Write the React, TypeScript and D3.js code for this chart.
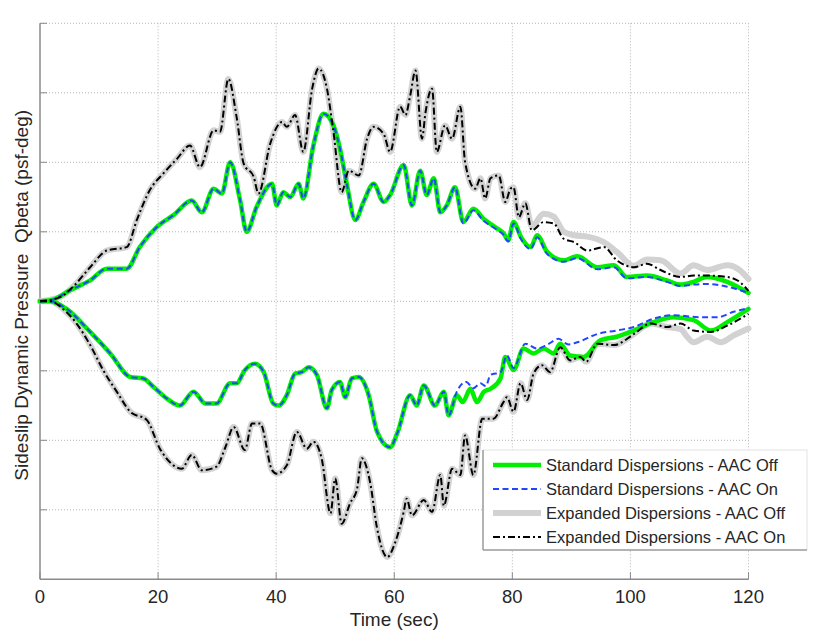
import React from "react";
import * as d3 from "d3";

// ---- Data (y in grid units; axis has unlabeled ticks) ----
const xTicks = [0, 20, 40, 60, 80, 100, 120];
const yTicks = [-3, -2, -1, 0, 1, 2, 3, 4];

const stdOffUpperT = [0, 2, 5.1, 8.5, 11.3, 14.7, 16.9, 19.8, 22.6, 25.7, 27.4, 29.4, 30.8, 32.2, 33.9, 35.0, 36.7, 39.3, 40.1, 41.2, 42.4, 43.8, 44.6, 46.3, 48.0, 49.7, 50.8, 52.0, 53.4, 54.8, 56.5, 58.2, 59.3, 61.6, 63.0, 64.4, 65.5, 66.7, 67.8, 68.9, 70.3, 71.7, 73.4, 75.1, 77.4, 78.5, 79.3, 80.2, 81.5, 83.1, 84.2, 85.9, 88.7, 91, 94.4, 97.2, 99.4, 102.8, 106.2, 108.5, 110.7, 113, 116.4, 120];
const stdOffUpperV = [0, 0.02, 0.16, 0.30, 0.47, 0.47, 0.78, 1.07, 1.24, 1.45, 1.28, 1.62, 1.55, 2.00, 1.45, 1.00, 1.36, 1.69, 1.38, 1.57, 1.50, 1.69, 1.48, 2.24, 2.70, 2.53, 2.20, 1.67, 1.17, 1.43, 1.69, 1.43, 1.53, 1.96, 1.38, 1.88, 1.53, 1.77, 1.28, 1.38, 1.64, 1.14, 1.33, 1.19, 1.05, 0.98, 0.88, 1.14, 0.92, 0.78, 0.95, 0.71, 0.59, 0.65, 0.49, 0.52, 0.35, 0.37, 0.30, 0.24, 0.28, 0.35, 0.28, 0.12];

const stdOnUpperT = [0, 2, 5.1, 8.5, 11.3, 14.7, 16.9, 19.8, 22.6, 25.7, 27.4, 29.4, 30.8, 32.2, 33.9, 35.0, 36.7, 39.3, 40.1, 41.2, 42.4, 43.8, 44.6, 46.3, 48.0, 49.7, 50.8, 52.0, 53.4, 54.8, 56.5, 58.2, 59.3, 61.6, 63.0, 64.4, 65.5, 66.7, 67.8, 68.9, 70.3, 71.7, 73.4, 75.1, 77.4, 78.5, 79.3, 80.2, 81.5, 83.1, 84.2, 85.9, 88.7, 91, 94.4, 97.2, 99.4, 102.8, 106.2, 108.5, 110.7, 113, 116.4, 120];
const stdOnUpperV = [0, 0.02, 0.16, 0.30, 0.47, 0.47, 0.78, 1.07, 1.24, 1.45, 1.28, 1.62, 1.55, 2.00, 1.45, 1.00, 1.36, 1.69, 1.38, 1.57, 1.50, 1.69, 1.48, 2.24, 2.70, 2.53, 2.20, 1.67, 1.17, 1.43, 1.69, 1.43, 1.53, 1.96, 1.38, 1.88, 1.53, 1.77, 1.28, 1.38, 1.64, 1.12, 1.31, 1.16, 1.03, 0.96, 0.86, 1.12, 0.89, 0.75, 0.92, 0.68, 0.57, 0.62, 0.46, 0.49, 0.33, 0.35, 0.28, 0.22, 0.24, 0.25, 0.21, 0.12];

const expOffUpperT = [0, 3.4, 5.6, 8.5, 11.3, 14.7, 16.4, 18.6, 20.9, 23.2, 25.4, 27.1, 29.4, 30.5, 31.9, 33.3, 34.5, 36.2, 37.0, 39.0, 41.0, 41.8, 43.2, 44.6, 46.1, 47.2, 48.6, 49.7, 51.1, 52.3, 54.0, 55.4, 56.5, 58.2, 59.3, 61.0, 61.9, 62.7, 63.6, 64.7, 65.3, 66.4, 67.2, 68.6, 69.8, 71.2, 72.0, 73.7, 74.6, 75.4, 76.3, 77.7, 78.8, 79.7, 80.2, 81.1, 82.2, 83.3, 85.3, 87, 88.7, 90.5, 92.7, 95.5, 97.7, 100.6, 102.8, 105.1, 108.5, 110.7, 113, 116.4, 118.5, 120];
const expOffUpperV = [0, 0.06, 0.21, 0.49, 0.73, 0.78, 1.17, 1.60, 1.84, 2.05, 2.24, 1.93, 2.46, 2.44, 3.20, 2.65, 1.98, 1.79, 1.55, 2.27, 2.58, 2.51, 2.68, 2.15, 3.06, 3.35, 3.06, 2.44, 1.57, 1.88, 1.81, 2.34, 2.51, 2.41, 2.15, 2.80, 2.68, 2.96, 3.32, 2.34, 2.72, 3.06, 2.15, 2.53, 2.34, 2.80, 2.00, 1.62, 1.77, 1.48, 1.77, 1.81, 1.43, 1.62, 1.64, 1.21, 1.41, 1.08, 1.26, 1.22, 1.00, 0.95, 0.93, 0.85, 0.71, 0.51, 0.60, 0.59, 0.40, 0.52, 0.45, 0.52, 0.45, 0.32];

const expOnUpperT = [0, 3.4, 5.6, 8.5, 11.3, 14.7, 16.4, 18.6, 20.9, 23.2, 25.4, 27.1, 29.4, 30.5, 31.9, 33.3, 34.5, 36.2, 37.0, 39.0, 41.0, 41.8, 43.2, 44.6, 46.1, 47.2, 48.6, 49.7, 51.1, 52.3, 54.0, 55.4, 56.5, 58.2, 59.3, 61.0, 61.9, 62.7, 63.6, 64.7, 65.3, 66.4, 67.2, 68.6, 69.8, 71.2, 72.0, 73.7, 74.6, 75.4, 76.3, 77.7, 78.8, 79.7, 80.2, 81.1, 82.2, 83.3, 85.3, 87, 88.7, 90.5, 92.7, 95.5, 97.7, 100.6, 102.8, 105.1, 108.5, 110.7, 113, 116.4, 118.5, 120];
const expOnUpperV = [0, 0.06, 0.21, 0.49, 0.73, 0.78, 1.17, 1.60, 1.84, 2.05, 2.24, 1.93, 2.46, 2.44, 3.20, 2.65, 1.98, 1.79, 1.55, 2.27, 2.58, 2.51, 2.68, 2.15, 3.06, 3.35, 3.06, 2.44, 1.57, 1.88, 1.81, 2.34, 2.51, 2.41, 2.15, 2.80, 2.68, 2.96, 3.32, 2.34, 2.72, 3.06, 2.15, 2.53, 2.34, 2.80, 2.00, 1.62, 1.77, 1.48, 1.77, 1.81, 1.43, 1.62, 1.64, 1.21, 1.41, 1.02, 1.14, 1.12, 0.90, 0.85, 0.73, 0.78, 0.59, 0.49, 0.54, 0.45, 0.35, 0.37, 0.37, 0.35, 0.28, 0.15];

const stdOffLowerT = [0, 1.7, 4.5, 8.5, 11.9, 15.3, 17.5, 19.2, 21.5, 23.7, 26.0, 28.0, 29.9, 32.2, 33.3, 34.7, 36.4, 37.9, 39.5, 40.4, 41.8, 43.2, 44.3, 45.5, 46.9, 48.6, 49.4, 50.8, 51.7, 52.8, 54.0, 55.6, 57.1, 59.3, 60.5, 62.7, 63.8, 65.0, 66.9, 68.4, 69.2, 70.6, 71.6, 72.9, 74.0, 75.2, 76.3, 78.0, 78.8, 80.2, 81.9, 83.6, 85.3, 87.0, 88.1, 89.8, 92.1, 94.9, 97.7, 100.6, 103.9, 107.3, 110.7, 113.6, 116.4, 120];
const stdOffLowerV = [0, 0, -0.11, -0.44, -0.75, -1.09, -1.11, -1.23, -1.40, -1.50, -1.30, -1.47, -1.47, -1.18, -1.18, -0.99, -0.90, -1.02, -1.47, -1.50, -1.35, -1.04, -1.02, -0.95, -1.06, -1.54, -1.28, -1.16, -1.38, -1.11, -1.09, -1.33, -1.88, -2.10, -1.90, -1.35, -1.50, -1.21, -1.50, -1.30, -1.64, -1.35, -1.45, -1.26, -1.45, -1.30, -1.26, -1.11, -0.80, -0.99, -0.68, -0.75, -0.68, -0.75, -0.61, -0.78, -0.80, -0.56, -0.51, -0.42, -0.30, -0.23, -0.27, -0.42, -0.30, -0.11];

const stdOnLowerT = [0, 1.7, 4.5, 8.5, 11.9, 15.3, 17.5, 19.2, 21.5, 23.7, 26.0, 28.0, 29.9, 32.2, 33.3, 34.7, 36.4, 37.9, 39.5, 40.4, 41.8, 43.2, 44.3, 45.5, 46.9, 48.6, 49.4, 50.8, 51.7, 52.8, 54.0, 55.6, 57.1, 59.3, 60.5, 62.7, 63.8, 65.0, 66.9, 68.4, 69.2, 70.6, 72.2, 73.4, 74.6, 75.5, 76.3, 78.0, 79.1, 80.2, 82.2, 84.2, 86.0, 87.8, 89.5, 91.0, 94.4, 97.7, 100.6, 103.9, 107.3, 111.9, 114.7, 117.5, 120];
const stdOnLowerV = [0, 0, -0.11, -0.44, -0.75, -1.09, -1.11, -1.23, -1.40, -1.50, -1.30, -1.47, -1.47, -1.18, -1.18, -0.99, -0.90, -1.02, -1.47, -1.50, -1.35, -1.04, -1.02, -0.95, -1.06, -1.54, -1.28, -1.16, -1.38, -1.11, -1.09, -1.33, -1.88, -2.10, -1.90, -1.35, -1.50, -1.21, -1.50, -1.30, -1.64, -1.30, -1.16, -1.25, -1.18, -1.22, -1.06, -1.02, -0.78, -0.96, -0.61, -0.68, -0.62, -0.54, -0.62, -0.59, -0.47, -0.42, -0.37, -0.25, -0.20, -0.23, -0.23, -0.15, -0.10];

const expOffLowerT = [0, 1.7, 3.9, 6.2, 8.5, 10.7, 13.0, 15.3, 18.1, 20.3, 22.6, 24.0, 25.7, 27.4, 29.9, 31.4, 32.8, 34.7, 35.9, 37.3, 39.3, 40.1, 41.8, 43.5, 45.2, 46.3, 47.7, 49.2, 50.0, 51.1, 52.5, 53.7, 54.5, 55.9, 57.1, 58.8, 60.2, 61.6, 62.1, 63.0, 65.0, 66.4, 67.8, 68.4, 69.8, 71.2, 72.0, 73.4, 74.9, 76.8, 78.5, 79.1, 80.2, 81.4, 82.5, 83.6, 85.0, 86.4, 88.1, 89.8, 91.5, 92.5, 94.4, 97.2, 100.6, 103.4, 106.2, 108.5, 109.6, 110.7, 113.0, 115.3, 117.5, 120];
const expOffLowerV = [0, 0, -0.11, -0.32, -0.63, -0.99, -1.30, -1.59, -1.71, -2.12, -2.36, -2.41, -2.21, -2.43, -2.38, -2.10, -1.81, -2.14, -1.76, -1.76, -2.43, -2.48, -2.36, -1.88, -2.12, -2.02, -2.26, -3.05, -2.55, -3.20, -2.91, -2.70, -2.26, -2.60, -3.27, -3.68, -3.46, -3.03, -2.84, -3.08, -2.86, -3.03, -2.50, -2.94, -2.41, -2.50, -1.93, -2.50, -1.69, -1.69, -1.45, -1.38, -1.59, -1.18, -1.42, -1.04, -0.92, -1.02, -0.66, -0.85, -0.80, -0.87, -0.61, -0.63, -0.47, -0.32, -0.37, -0.40, -0.51, -0.59, -0.51, -0.59, -0.49, -0.39];

const expOnLowerT = [0, 1.7, 3.9, 6.2, 8.5, 10.7, 13.0, 15.3, 18.1, 20.3, 22.6, 24.0, 25.7, 27.4, 29.9, 31.4, 32.8, 34.7, 35.9, 37.3, 39.3, 40.1, 41.8, 43.5, 45.2, 46.3, 47.7, 49.2, 50.0, 51.1, 52.5, 53.7, 54.5, 55.9, 57.1, 58.8, 60.2, 61.6, 62.1, 63.0, 65.0, 66.4, 67.8, 68.4, 69.8, 71.2, 72.0, 73.4, 74.9, 76.8, 78.5, 79.1, 80.2, 81.4, 82.5, 83.6, 85.0, 86.4, 88.1, 89.8, 91.5, 92.5, 94.4, 97.2, 100.6, 103.4, 106.2, 108.5, 110.7, 113.6, 116.4, 120];
const expOnLowerV = [0, 0, -0.11, -0.32, -0.63, -0.99, -1.30, -1.59, -1.71, -2.12, -2.36, -2.41, -2.21, -2.43, -2.38, -2.10, -1.81, -2.14, -1.76, -1.76, -2.43, -2.48, -2.36, -1.88, -2.12, -2.02, -2.26, -3.05, -2.55, -3.20, -2.91, -2.70, -2.26, -2.60, -3.27, -3.68, -3.46, -3.03, -2.84, -3.08, -2.86, -3.03, -2.50, -2.94, -2.41, -2.50, -1.93, -2.50, -1.69, -1.69, -1.45, -1.38, -1.59, -1.18, -1.42, -1.04, -0.92, -1.02, -0.66, -0.85, -0.80, -0.87, -0.61, -0.63, -0.47, -0.32, -0.37, -0.32, -0.42, -0.44, -0.35, -0.18];

const legendLabels = [
  "Standard Dispersions - AAC Off",
  "Standard Dispersions - AAC On",
  "Expanded Dispersions - AAC Off",
  "Expanded Dispersions - AAC On",
];

const W = 822, H = 630;
const FONT = "'Liberation Sans', Arial, Helvetica, sans-serif";

type Style = { color: string; width: number; dash?: string };
const styles: Style[] = [
  { color: "#00ee00", width: 4.5 },
  { color: "#2246ff", width: 2, dash: "6,3.5" },
  { color: "#d2d2d2", width: 6 },
  { color: "#000000", width: 2, dash: "7,3,2,3" },
];

export default function App() {
  const x = d3.scaleLinear().domain([0, 120]).range([40, 748.5]);
  const y = d3.scaleLinear().domain([-4, 4]).range([579.3, 23.3]);
  const line = d3
    .line<[number, number]>()
    .x((d) => x(d[0]))
    .y((d) => y(d[1]))
    .curve(d3.curveMonotoneX);
  const zip = (t: number[], v: number[]) => t.map((tt, i) => [tt, v[i]] as [number, number]);

  // draw order: expanded off (gray), standard off (green), standard on (blue), expanded on (black)
  const curves: { s: number; data: [number, number][] }[] = [
    { s: 2, data: zip(expOffUpperT, expOffUpperV) },
    { s: 2, data: zip(expOffLowerT, expOffLowerV) },
    { s: 0, data: zip(stdOffUpperT, stdOffUpperV) },
    { s: 0, data: zip(stdOffLowerT, stdOffLowerV) },
    { s: 1, data: zip(stdOnUpperT, stdOnUpperV) },
    { s: 1, data: zip(stdOnLowerT, stdOnLowerV) },
    { s: 3, data: zip(expOnUpperT, expOnUpperV) },
    { s: 3, data: zip(expOnLowerT, expOnLowerV) },
  ];

  const [x0, x1] = x.range();
  const [yb, yt] = y.range();

  const lgX = 483, lgY = 450, lgW = 324, lgH = 100;

  return (
    <svg
      width={W}
      height={H}
      style={{ position: "absolute", left: 0, top: 0, background: "#fff" }}
      fontFamily={FONT}
    >
      <rect x={0} y={0} width={W} height={H} fill="#fff" />
      {/* grid */}
      {xTicks.filter((t) => t > 0).map((t) => (
        <line key={"gx" + t} x1={x(t)} x2={x(t)} y1={yb} y2={yt} stroke="#b4b4b4" strokeWidth={1} strokeDasharray="1,2" />
      ))}
      {yTicks.map((t) => (
        <line key={"gy" + t} x1={x0} x2={x1} y1={y(t)} y2={y(t)} stroke="#b4b4b4" strokeWidth={1} strokeDasharray="1,2" />
      ))}
      {/* axes */}
      <line x1={x0} x2={x0} y1={yt} y2={yb} stroke="#8a8a8a" strokeWidth={1.5} />
      <line x1={x0} x2={x1} y1={yb} y2={yb} stroke="#8a8a8a" strokeWidth={1.5} />
      {xTicks.map((t) => (
        <line key={"tx" + t} x1={x(t)} x2={x(t)} y1={yb} y2={yb - 7} stroke="#8a8a8a" strokeWidth={1} />
      ))}
      {yTicks.map((t) => (
        <line key={"ty" + t} x1={x0} x2={x0 + 7} y1={y(t)} y2={y(t)} stroke="#8a8a8a" strokeWidth={1} />
      ))}
      {/* curves */}
      {curves.map((c, i) => (
        <path
          key={"c" + i}
          d={line(c.data) || ""}
          fill="none"
          stroke={styles[c.s].color}
          strokeWidth={styles[c.s].width}
          strokeDasharray={styles[c.s].dash}
          strokeLinejoin="round"
          strokeLinecap={c.s === 0 || c.s === 2 ? "round" : "butt"}
        />
      ))}
      {/* tick labels */}
      {xTicks.map((t) => (
        <text key={"lx" + t} x={x(t)} y={603} textAnchor="middle" fontSize={18.5} fill="#262626">
          {t}
        </text>
      ))}
      <text x={(x0 + x1) / 2} y={626} textAnchor="middle" fontSize={19} fill="#262626">
        Time (sec)
      </text>
      <text
        transform={`translate(28, ${(yt + yb) / 2 - 6}) rotate(-90)`}
        textAnchor="middle"
        fontSize={19}
        fill="#262626"
        style={{ whiteSpace: "pre" }}
      >
        {"Sideslip Dynamic Pressure  Qbeta (psf-deg)"}
      </text>
      {/* legend */}
      <rect x={lgX} y={lgY} width={lgW} height={lgH} fill="#fff" />
      <line x1={lgX} x2={lgX + lgW} y1={lgY} y2={lgY} stroke="#e2e2e2" strokeWidth={1} />
      <line x1={lgX + lgW} x2={lgX + lgW} y1={lgY} y2={lgY + lgH} stroke="#e2e2e2" strokeWidth={1} />
      <line x1={lgX} x2={lgX} y1={lgY} y2={lgY + lgH} stroke="#9a9a9a" strokeWidth={1.5} />
      <line x1={lgX} x2={lgX + lgW} y1={lgY + lgH} y2={lgY + lgH} stroke="#9a9a9a" strokeWidth={1.5} />
      {legendLabels.map((lab, i) => {
        const cy = 465 + i * 24;
        const s = styles[i];
        return (
          <g key={"lg" + i}>
            <line x1={493} x2={541} y1={cy} y2={cy} stroke={s.color} strokeWidth={s.width} strokeDasharray={s.dash} />
            <text x={546} y={cy + 6} fontSize={16.5} fill="#262626">
              {lab}
            </text>
          </g>
        );
      })}
    </svg>
  );
}
